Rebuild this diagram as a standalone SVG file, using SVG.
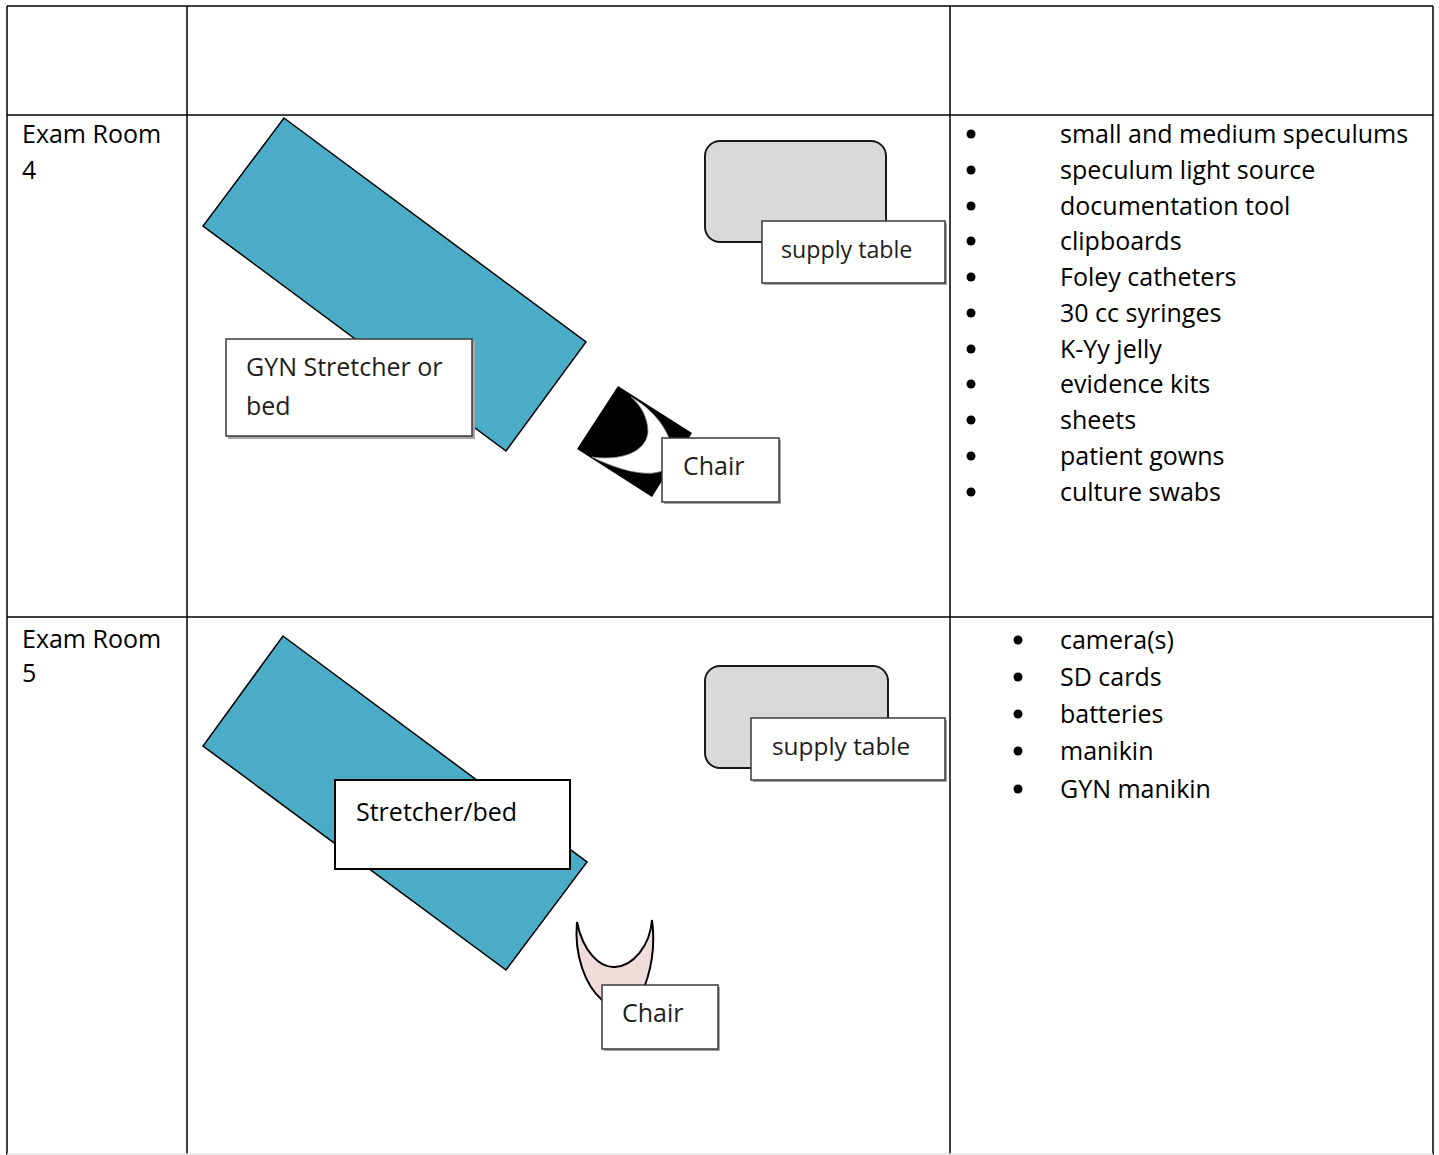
<svg xmlns="http://www.w3.org/2000/svg" width="1439" height="1155" viewBox="0 0 1439 1155">
<style>
  .grid { stroke: #000; stroke-width: 1.5; fill: none; }
  .txt { font-family: "Open Sans", "Liberation Sans", sans-serif; font-size: 25px; fill: #000; }
  .lbl { font-family: "Open Sans", "Liberation Sans", sans-serif; font-size: 25px; fill: #1e1e1e; }
  .bed { fill: #4aacc6; stroke: #000; stroke-width: 1.5; stroke-linejoin: miter; }
  .table { fill: #d9d9d9; stroke: #1a1a1a; stroke-width: 2; }
  .box { fill: #fff; stroke: #3a3a3a; stroke-width: 1.5; }
  .shadow { fill: #a6a6a6; }
  .bullet { fill: #000; }
</style>
<rect x="0" y="0" width="1439" height="1155" fill="#fff"/>

<g id="table-grid">
  <line class="grid" x1="7" y1="6" x2="1433" y2="6"/>
  <line class="grid" x1="7" y1="115" x2="1433" y2="115"/>
  <line class="grid" x1="7" y1="617" x2="1433" y2="617"/>
  <line class="grid" x1="7" y1="6" x2="7" y2="1155"/>
  <line class="grid" x1="187" y1="6" x2="187" y2="1155"/>
  <line class="grid" x1="950" y1="6" x2="950" y2="1155"/>
  <line class="grid" x1="1433" y1="6" x2="1433" y2="1155"/>
  <line x1="7" y1="1154" x2="1433" y2="1154" stroke="#e6e6e6" stroke-width="1.5"/>
</g>

<g id="room4-name">
  <text class="txt" x="22" y="143">Exam Room</text>
  <text class="txt" x="22" y="179">4</text>
</g>

<g id="room5-name">
  <text class="txt" x="22" y="648">Exam Room</text>
  <text class="txt" x="22" y="682">5</text>
</g>

<g id="room4-bed">
  <polygon class="bed" points="284,118 586,342 506,451 203,226"/>
</g>
<g id="room4-bed-label">
  <rect class="shadow" x="228" y="341" width="247" height="98"/>
  <rect class="box" x="226" y="339" width="246" height="97"/>
  <text class="lbl" x="246" y="376">GYN Stretcher or</text>
  <text class="lbl" x="246" y="415">bed</text>
</g>

<g id="room4-supply-table">
  <rect class="table" x="705" y="141" width="181" height="101" rx="15" ry="15"/>
</g>
<g id="room4-supply-label">
  <rect class="shadow" x="764" y="223" width="183" height="62"/>
  <rect class="box" x="762" y="221" width="183" height="62"/>
  <text class="lbl" x="781" y="258" style="font-size:23.2px">supply table</text>
</g>

<g id="room4-chair">
  <polygon points="618,386 692,433 652,497 577,449" fill="#000"/>
  <path d="M631,397 C 662,414 680,448 669,466 C 657,480 622,472 592,457 C 622,461 646,452 648,432 C 648,418 641,405 631,397 Z" fill="#fff" stroke="#888" stroke-width="0.8"/>
</g>
<g id="room4-chair-label">
  <rect class="shadow" x="664" y="440" width="117" height="64"/>
  <rect class="box" x="662" y="438" width="117" height="64"/>
  <text class="lbl" x="683" y="475">Chair</text>
</g>

<g id="room4-list">
  <circle class="bullet" cx="971" cy="134" r="4.5"/>
  <circle class="bullet" cx="971" cy="170" r="4.5"/>
  <circle class="bullet" cx="971" cy="206" r="4.5"/>
  <circle class="bullet" cx="971" cy="241" r="4.5"/>
  <circle class="bullet" cx="971" cy="277" r="4.5"/>
  <circle class="bullet" cx="971" cy="313" r="4.5"/>
  <circle class="bullet" cx="971" cy="349" r="4.5"/>
  <circle class="bullet" cx="971" cy="384" r="4.5"/>
  <circle class="bullet" cx="971" cy="420" r="4.5"/>
  <circle class="bullet" cx="971" cy="456" r="4.5"/>
  <circle class="bullet" cx="971" cy="492" r="4.5"/>
  <text class="txt" x="1060" y="143">small and medium speculums</text>
  <text class="txt" x="1060" y="179">speculum light source</text>
  <text class="txt" x="1060" y="215">documentation tool</text>
  <text class="txt" x="1060" y="250">clipboards</text>
  <text class="txt" x="1060" y="286">Foley catheters</text>
  <text class="txt" x="1060" y="322">30 cc syringes</text>
  <text class="txt" x="1060" y="358">K-Yy jelly</text>
  <text class="txt" x="1060" y="393">evidence kits</text>
  <text class="txt" x="1060" y="429">sheets</text>
  <text class="txt" x="1060" y="465">patient gowns</text>
  <text class="txt" x="1060" y="501">culture swabs</text>
</g>

<g id="room5-bed">
  <polygon class="bed" points="283,636 587,862 506,970 203,746"/>
</g>
<g id="room5-bed-label">
  <rect x="335" y="780" width="235" height="89" fill="#fff" stroke="#000" stroke-width="2"/>
  <text class="txt" x="356" y="821">Stretcher/bed</text>
</g>

<g id="room5-supply-table">
  <rect class="table" x="705" y="666" width="183" height="102" rx="15" ry="15"/>
</g>
<g id="room5-supply-label">
  <rect class="shadow" x="753" y="720" width="194" height="62"/>
  <rect class="box" x="751" y="718" width="194" height="62"/>
  <text class="lbl" x="772" y="755" style="font-size:24.4px">supply table</text>
</g>

<g id="room5-chair">
  <path d="M577,922 C 583,952 600,968 615,967 C 633,966 650,946 652,920 C 656,950 650,975 641,995 L 602,1000 C 585,985 574,955 577,922 Z" fill="#f2dcdb" stroke="#000" stroke-width="2"/>
</g>
<g id="room5-chair-label">
  <rect class="shadow" x="604" y="987" width="116" height="64"/>
  <rect class="box" x="602" y="985" width="116" height="64"/>
  <text class="lbl" x="622" y="1022">Chair</text>
</g>

<g id="room5-list">
  <circle class="bullet" cx="1018" cy="640" r="4.5"/>
  <circle class="bullet" cx="1018" cy="677" r="4.5"/>
  <circle class="bullet" cx="1018" cy="714" r="4.5"/>
  <circle class="bullet" cx="1018" cy="751" r="4.5"/>
  <circle class="bullet" cx="1018" cy="789" r="4.5"/>
  <text class="txt" x="1060" y="649">camera(s)</text>
  <text class="txt" x="1060" y="686">SD cards</text>
  <text class="txt" x="1060" y="723">batteries</text>
  <text class="txt" x="1060" y="760">manikin</text>
  <text class="txt" x="1060" y="798">GYN manikin</text>
</g>

<g id="connectors"/>
</svg>
